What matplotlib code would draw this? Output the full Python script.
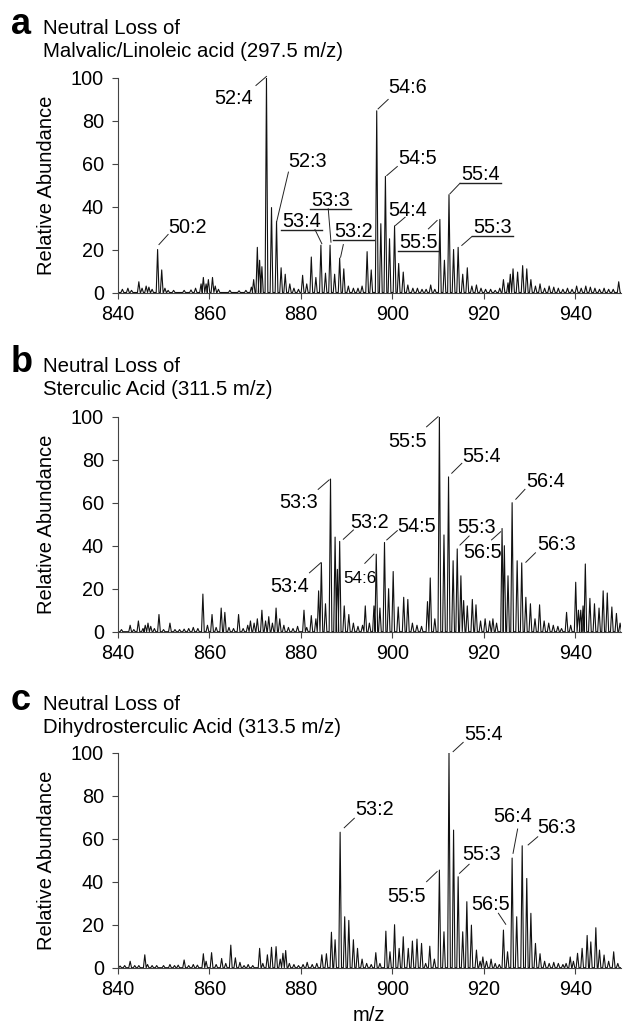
import matplotlib
matplotlib.use("Agg")
import matplotlib.pyplot as plt

plt.rcParams['font.family'] = ['Liberation Sans', 'DejaVu Sans']

# ---------------- data ----------------
mz_a = [841.0, 842.2, 843.0, 844.6, 845.3, 846.2, 846.8, 847.5, 848.7, 849.6, 850.3, 851.0, 852.2, 854.5,
        856.0, 857.0, 858.2, 858.7, 859.3, 859.8, 860.7, 861.3, 862.0, 864.5, 866.5, 868.0, 869.2, 869.7,
        870.5, 871.0, 871.5, 872.5, 873.6, 874.7, 875.7, 876.6, 877.6, 878.5, 879.5, 880.4, 881.3, 882.3,
        883.3, 884.4, 885.4, 886.4, 887.4, 888.5, 889.4, 890.4, 891.5, 892.5, 893.4, 894.5, 895.4, 896.6,
        897.5, 898.5, 899.4, 900.5, 901.4, 902.4, 903.4, 904.5, 905.5, 906.5, 907.4, 908.4, 909.3, 910.4,
        911.4, 912.4, 913.4, 914.4, 915.4, 916.4, 917.4, 918.4, 919.4, 920.4, 921.5, 922.5, 923.5, 924.3,
        925.3, 925.8, 926.4, 927.4, 928.5, 929.4, 930.3, 931.3, 932.3, 933.3, 934.3, 935.3, 936.3, 937.3,
        938.3, 939.3, 940.3, 941.3, 942.3, 943.3, 944.3, 945.3, 946.3, 947.3, 948.3, 949.5]
int_a = [1.5, 2, 1, 5, 2, 3, 2.5, 1.5, 20, 10.5, 2, 1, 1, 1,
         1.2, 2, 4, 7, 4, 6, 7, 3, 1.5, 1, 0.8, 1, 2.5, 6,
         21, 15, 12, 100, 39.5, 33, 11.5, 8.5, 4, 2, 1.5, 8, 4, 16.5,
         7, 22, 9, 22, 8.5, 16, 11, 3, 2, 2, 3, 19, 10.5, 84.5,
         32, 54, 25, 31, 13.5, 9.5, 3.5, 2, 2, 1.5, 1.5, 3.5, 1.5, 34,
         15, 45.5, 20, 21, 8.5, 11.5, 3, 3.5, 2, 1.5, 1.5, 1, 2, 6,
         4.5, 8.5, 11, 9.5, 12.5, 11, 6, 3, 4, 2, 3, 2.5, 2, 1.5,
         2, 1.5, 3, 2, 3, 2.5, 2, 1.5, 2, 1.5, 1.5, 5]

mz_b = [840.8, 842.7, 843.5, 844.5, 845.5, 846.0, 846.6, 847.2, 848.0, 849.0, 850.0, 851.4, 852.5, 853.5,
        854.5, 855.5, 856.5, 857.5, 858.6, 859.6, 860.6, 861.5, 862.6, 863.4, 864.3, 865.3, 866.4, 867.4,
        868.4, 869.0, 869.8, 870.5, 871.5, 872.3, 873.0, 873.8, 874.6, 875.4, 876.3, 877.3, 878.3, 879.3,
        880.7, 881.3, 882.3, 883.3, 883.9, 884.5, 885.4, 886.5, 887.5, 888.0, 888.5, 889.5, 890.5, 891.5,
        892.5, 893.5, 894.1, 895.0, 896.0, 896.5, 897.3, 898.3, 899.2, 900.2, 901.3, 902.5, 903.4, 904.4,
        905.4, 906.4, 907.7, 908.3, 909.3, 910.3, 911.3, 912.3, 913.3, 914.2, 915.0, 915.6, 916.4, 917.5,
        918.3, 919.3, 920.3, 921.3, 922.0, 922.8, 924.0, 924.5, 925.3, 926.2, 927.3, 928.3, 929.2, 930.2,
        931.2, 932.2, 933.2, 934.2, 935.2, 936.2, 937.0, 938.1, 939.0, 940.1, 940.7, 941.2, 941.7, 942.2,
        943.2, 944.2, 945.2, 946.1, 947.0, 948.0, 949.0, 949.8]
int_b = [1, 3, 1, 5, 1.5, 3, 4, 2.5, 1.5, 8, 1, 4, 1, 1,
         1.2, 1.5, 2, 1.5, 17.5, 3, 8, 2, 11, 9, 2, 1.5, 8, 1.5,
         3, 5, 4, 6, 10, 5, 7, 4, 11, 6, 3, 2, 1.5, 2.5,
         10, 2, 7.5, 6, 19, 32, 13, 71, 44, 29, 42, 12, 8, 4,
         2.5, 3, 12, 4, 12, 36, 11, 41.5, 20, 28, 11.5, 16, 15, 4,
         3, 2.5, 14, 25, 6, 100, 45, 72, 33, 38.5, 26, 14.5, 12, 15,
         12.5, 5, 6, 5, 6, 4, 48, 40, 26, 60, 33, 32, 16, 13,
         6, 12.5, 5, 4, 3, 2.5, 1.5, 9, 3, 23, 10, 10, 12, 31.5,
         15.5, 13, 11, 19, 18, 11.5, 8.5, 4]

mz_c = [840.5, 841.5, 842.7, 843.7, 844.6, 845.9, 846.5, 847.5, 848.5, 850.0, 851.4, 852.4, 853.2, 854.5,
        855.5, 856.5, 857.4, 858.7, 859.3, 860.5, 861.5, 862.7, 863.6, 864.7, 865.7, 866.7, 867.6, 868.5,
        869.5, 871.0, 871.7, 872.7, 873.6, 874.6, 875.5, 876.1, 876.7, 877.5, 878.5, 879.5, 880.5, 881.4,
        882.5, 883.5, 884.6, 885.6, 886.7, 887.5, 888.6, 889.6, 890.5, 891.5, 892.4, 893.4, 894.4, 895.4,
        896.4, 897.3, 898.6, 899.5, 900.5, 901.5, 902.4, 903.5, 904.4, 905.4, 906.4, 907.3, 908.2, 909.2,
        910.3, 911.3, 912.4, 913.4, 914.4, 915.4, 916.3, 917.3, 918.4, 919.2, 919.8, 920.6, 921.6, 922.5,
        923.4, 924.3, 925.2, 926.2, 927.2, 928.4, 929.4, 930.3, 931.3, 932.3, 933.3, 934.3, 935.3, 936.3,
        937.3, 938.0, 938.9, 939.6, 940.5, 941.5, 942.6, 943.4, 944.5, 945.3, 946.3, 947.3, 948.4, 949.3]
int_c = [0.8, 1, 3, 1, 1, 6, 1.5, 1, 1, 1, 1.5, 1, 1.2, 3.6,
         1, 1.5, 1.2, 6.5, 3, 7, 1.5, 4.3, 2, 10.5, 4.6, 2.5, 1, 1.5,
         1, 9, 2, 6, 9.5, 9.8, 4, 6.7, 8, 2, 1.5, 1, 1.5, 2.5,
         1.5, 2, 6, 6.5, 16.5, 13, 63, 23.7, 22, 13, 9, 4, 2, 1.5,
         7, 2, 17, 7.4, 20, 9, 14.4, 9, 12.4, 13.3, 11.3, 2, 10, 4,
         45.4, 16.7, 100, 64, 42.3, 16.7, 30.7, 19.8, 8.2, 3, 5, 3, 4, 2,
         1.5, 17.5, 7.4, 51, 23.7, 56.7, 41.5, 25.3, 11.3, 6.5, 3, 2, 2.5, 2,
         1.5, 2, 5, 3, 6.7, 9, 15, 12, 18.6, 8.2, 5.9, 3, 7.4, 2]

titles = ["Neutral Loss of\nMalvalic/Linoleic acid (297.5 m/z)",
          "Neutral Loss of\nSterculic Acid (311.5 m/z)",
          "Neutral Loss of\nDihydrosterculic Acid (313.5 m/z)"]
panel_letters = ["a", "b", "c"]

labels_a = ["50:2", "52:4", "52:3", "53:4", "53:3", "53:2", "54:6", "54:5", "54:4", "55:5", "55:4", "55:3"]
labels_b = ["53:3", "53:4", "53:2", "54:6", "54:5", "55:5", "55:4", "55:3", "56:5", "56:4", "56:3"]
labels_c = ["53:2", "55:4", "55:5", "55:3", "56:5", "56:4", "56:3"]
underlined_a = ["53:4", "53:3", "53:2", "55:5", "55:4", "55:3"]

xticks = [840, 860, 880, 900, 920, 940]
yticks = [0, 20, 40, 60, 80, 100]

# ---------------- layout (styles / positions) ----------------
# text placement per label: (text_x, text_y, ha, leader x1, y1, x2, y2, fontsize)
place_a = {
    "50:2": (851.0, 27.9, "left", 849.0, 22.3, 851.0, 27.0, 14),
    "52:4": (869.6, 87.9, "right", 870.2, 96.3, 872.5, 100.5, 14),
    "52:3": (877.2, 58.6, "left", 877.3, 56.0, 874.7, 32.7, 14),
    "53:4": (875.9, 30.4, "left", 883.1, 29.3, 884.6, 22.7, 14),
    "53:3": (882.2, 40.4, "left", 886.0, 39.0, 886.6, 23.4, 14),
    "53:2": (887.3, 25.6, "left", 889.3, 22.3, 888.7, 16.4, 14),
    "54:6": (899.1, 92.6, "left", 896.9, 85.4, 899.1, 89.8, 14),
    "54:5": (901.2, 60.0, "left", 898.8, 54.4, 901.1, 58.6, 14),
    "54:4": (899.1, 35.8, "left", 900.7, 31.2, 902.8, 35.0, 14),
    "55:5": (901.5, 20.8, "left", 907.9, 29.6, 909.8, 33.5, 14),
    "55:4": (915.0, 52.3, "left", 912.6, 45.9, 914.8, 50.8, 14),
    "55:3": (917.6, 27.6, "left", 915.2, 21.9, 917.4, 26.0, 14),
}
place_b = {
    "53:3": (883.8, 57.5, "right", 883.8, 66.2, 886.2, 70.6, 14),
    "53:4": (881.8, 18.5, "right", 881.9, 27.4, 884.4, 32.1, 14),
    "53:2": (890.9, 48.2, "left", 889.3, 43.0, 891.5, 47.3, 14),
    "54:6": (889.2, 22.6, "left", 894.0, 31.8, 896.0, 36.1, 12),
    "54:5": (901.0, 46.4, "left", 898.8, 42.7, 901.1, 47.0, 14),
    "55:5": (907.6, 85.9, "right", 907.5, 95.3, 910.0, 100.0, 14),
    "55:4": (915.2, 78.9, "left", 913.0, 73.7, 915.2, 78.3, 14),
    "55:3": (914.1, 45.9, "left", 914.8, 40.3, 916.8, 44.5, 14),
    "56:5": (915.5, 34.3, "left", 921.7, 42.7, 923.7, 46.5, 14),
    "56:4": (929.2, 67.3, "left", 927.0, 61.6, 929.0, 66.2, 14),
    "56:3": (931.6, 38.0, "left", 929.2, 32.3, 931.3, 36.7, 14),
}
place_c = {
    "53:2": (891.8, 71.0, "left", 889.5, 65.1, 891.7, 69.5, 14),
    "55:4": (915.7, 105.9, "left", 913.3, 100.5, 915.5, 104.8, 14),
    "55:5": (907.3, 30.6, "right", 907.5, 40.0, 909.8, 44.7, 14),
    "55:3": (915.2, 50.1, "left", 914.7, 43.9, 916.8, 48.1, 14),
    "56:5": (917.2, 26.8, "left", 923.2, 25.3, 924.8, 20.2, 14),
    "56:4": (922.0, 67.8, "left", 927.4, 64.5, 926.4, 53.2, 14),
    "56:3": (931.8, 62.7, "left", 929.7, 57.1, 931.8, 60.9, 14),
}

W, H = 623, 1026
fig = plt.figure(figsize=(W / 100, H / 100), dpi=100)

ax_left = 117.8 / W
ax_w = (621.0 - 117.8) / W
ax_h = 215.0 / H
bottoms_px = [292.5, 631.7, 967.7]
title_base_px = [33.5, 371.5, 710.0]

half_w = 0.3
line_col = "#111111"
spine_col = "#444444"


def profile(mz, inten):
    pairs = sorted(zip(mz, inten))
    xs, ys = [], []
    for m, v in pairs:
        xs += [m - half_w, m, m + half_w]
        ys += [0, v, 0]
    return xs, ys


panels = [
    (mz_a, int_a, labels_a, place_a, underlined_a),
    (mz_b, int_b, labels_b, place_b, []),
    (mz_c, int_c, labels_c, place_c, []),
]

for i, (mz, inten, labs, place, under) in enumerate(panels):
    ax = fig.add_axes([ax_left, 1 - bottoms_px[i] / H, ax_w, ax_h])
    xs, ys = profile(mz, inten)
    ax.plot([840] + xs + [950], [0] + ys + [0], color=line_col, lw=0.8)
    ax.set_xlim(840, 950)
    ax.set_ylim(0, 100)
    ax.set_xticks(xticks)
    ax.set_yticks(yticks)
    ax.tick_params(axis='both', labelsize=14.3, length=4, width=0.8, color=spine_col)
    ax.tick_params(axis='y', pad=6)
    ax.tick_params(axis='x', pad=5)
    for s in ["top", "right"]:
        ax.spines[s].set_visible(False)
    for s in ["left", "bottom"]:
        ax.spines[s].set_color(spine_col)
        ax.spines[s].set_linewidth(0.8)

    for lab in labs:
        tx, ty, ha, x1, y1, x2, y2, fs = place[lab]
        ax.text(tx, ty, lab, ha=ha, va="baseline", fontsize=fs + 0.3, clip_on=False)
        ax.plot([x1, x2], [y1, y2], color="#222222", lw=0.7, clip_on=False)
        if lab in under:
            ax.plot([tx - 0.2, tx + 8.7], [ty - 1.4, ty - 1.4], color="#222222", lw=1.0,
                    clip_on=False)

    # panel letter and title
    yb = 1 - title_base_px[i] / H
    fig.text(11 / W, yb, panel_letters[i], fontsize=26, fontweight="bold", va="baseline", ha="left")
    line1, line2 = titles[i].split("\n")
    fig.text(43 / W, yb, line1, fontsize=14.7, va="baseline", ha="left")
    fig.text(43 / W, yb - 23.2 / H, line2, fontsize=14.7, va="baseline", ha="left")

    # y label
    yc = 1 - (bottoms_px[i] - 107.5) / H
    fig.text(46 / W, yc, "Relative Abundance", rotation=90, fontsize=14.5, ha="center", va="center")

fig.text((117.8 + 621) / 2 / W, 1 - 1021 / H, "m/z", fontsize=14.5, ha="center", va="baseline")

fig.savefig("out.png", dpi=100)
